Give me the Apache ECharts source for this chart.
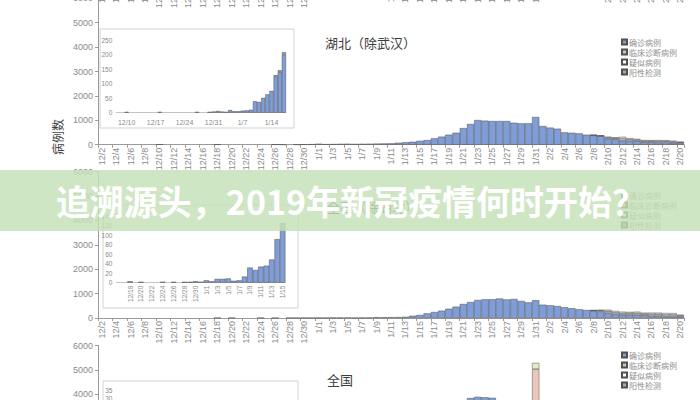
<!DOCTYPE html>
<html><head><meta charset="utf-8">
<script src="https://cdn.jsdelivr.net/npm/echarts@6/dist/echarts.min.js"></script>
<style>html,body{margin:0;padding:0;background:#fff}#c{width:700px;height:400px}</style>
</head><body><div id="c"></div><script>
// ---------- categories ----------
const dates = ['12/2','12/3','12/4','12/5','12/6','12/7','12/8','12/9','12/10','12/11','12/12','12/13','12/14','12/15','12/16','12/17','12/18','12/19','12/20','12/21','12/22','12/23','12/24','12/25','12/26','12/27','12/28','12/29','12/30','12/31',
'1/1','1/2','1/3','1/4','1/5','1/6','1/7','1/8','1/9','1/10','1/11','1/12','1/13','1/14','1/15','1/16','1/17','1/18','1/19','1/20','1/21','1/22','1/23','1/24','1/25','1/26','1/27','1/28','1/29','1/30','1/31',
'2/1','2/2','2/3','2/4','2/5','2/6','2/7','2/8','2/9','2/10','2/11','2/12','2/13','2/14','2/15','2/16','2/17','2/18','2/19','2/20'];
const insetHubeiDates = ['12/8','12/9','12/10','12/11','12/12','12/13','12/14','12/15','12/16','12/17','12/18','12/19','12/20','12/21','12/22','12/23','12/24','12/25','12/26','12/27','12/28','12/29','12/30','12/31',
'1/1','1/2','1/3','1/4','1/5','1/6','1/7','1/8','1/9','1/10','1/11','1/12','1/13','1/14','1/15','1/16','1/17'];
const insetOtherDates = ['12/16','12/17','12/18','12/19','12/20','12/21','12/22','12/23','12/24','12/25','12/26','12/27','12/28','12/29','12/30','12/31',
'1/1','1/2','1/3','1/4','1/5','1/6','1/7','1/8','1/9','1/10','1/11','1/12','1/13','1/14','1/15'];
const legendNames = ['确诊病例','临床诊断病例','疑似病例','阳性检测'];
const titleHubei = '湖北（除武汉）';
const titleOther = '全国（除湖北）';
const titleNation = '全国';
const bannerText = '追溯源头，2019年新冠疫情何时开始？';
const yName = '病例数';

// ---------- panel A: 湖北（除武汉） ----------
const hubeiConfirmed = [0,0,0,0,0,0,0,0,18,0, 0,0,0,0,0,0,15,0,0,0, 0,0,0,0,12,5,0,8,15,20,
 40,22,25,35,40,30,35,40,45,50, 55,80,100,120,160,190,260,330,410,490, 680,850,1010,985,970,970,970,900,875,875, 1135,
 765,700,655,505,490,465,410,380,350,245, 220,165,150,140,100,100,90,90,80,70];
const hubeiClinical = [0,0,0,0,0,0,0,0,0,0, 0,0,0,0,0,0,0,0,0,0, 0,0,0,0,0,0,0,0,0,0,
 0,0,0,0,0,0,0,0,0,0, 0,0,0,0,0,0,0,0,0,0, 0,0,0,0,0,0,0,0,0,0, 0,
 0,0,0,0,0,0,0,10,15,50, 50,90,70,60,50,50,55,55,45,30];
const hubeiSuspected = [0,0,0,0,0,0,0,0,0,0, 0,0,0,0,0,0,0,0,0,0, 0,0,0,0,0,0,0,0,0,0,
 0,0,0,0,0,0,0,0,0,0, 0,0,0,0,0,0,0,0,0,0, 0,0,0,0,0,0,0,0,0,0, 0,
 0,0,0,0,0,0,0,10,15,30, 30,70,50,40,40,40,45,40,40,20];

// ---------- panel B: 全国（除湖北） ----------
const otherConfirmed = [0,0,0,0,0,0,0,0,0,0, 0,0,0,0,0,0,8,0,6,0, 0,0,6,0,6,0,8,6,10,8,
 12,8,14,14,16,10,12,14,32,27, 34,36,49,92,126,190,245,300,380,465, 575,655,738,765,770,800,760,780,700,640, 730,
 546,520,490,440,400,360,330,300,270,200, 150,130,130,120,110,80,80,60,60,60];
const otherClinical = [0,0,0,0,0,0,0,0,0,0, 0,0,0,0,0,0,0,0,0,0, 0,0,0,0,0,0,0,0,0,0,
 0,0,0,0,0,0,0,0,0,0, 0,0,0,0,0,0,0,0,0,0, 0,0,0,0,0,0,0,0,0,0, 0,
 0,0,0,0,0,0,0,10,40,80, 80,70,70,80,60,80,80,80,80,40];
const otherSuspected = [0,0,0,0,0,0,0,0,0,0, 0,0,0,0,0,0,0,0,0,0, 0,0,0,0,0,0,0,0,0,0,
 0,0,0,0,0,0,0,0,0,0, 0,0,0,0,0,0,0,0,0,0, 0,0,0,0,0,0,0,0,0,0, 0,
 0,0,0,0,0,0,0,10,20,60, 60,60,50,60,50,60,60,65,60,35];

// ---------- panel C: 全国 ----------
const nationConfirmed = [0,0,0,0,0,0,0,5,20,10, 5,5,8,10,10,12,20,15,15,20, 20,25,25,30,30,35,35,40,45,60,
 80,70,90,100,110,110,120,140,170,190, 220,260,320,400,500,620,800,1200,1700,2300, 3100,3850,3900,3880,3860,3700,3650,3600,3550,3500, 3600,
 3300,3100,2900,2700,2500,2300,2100,1900,1700,1400, 1200,1000,900,800,700,600,500,450,400,350];
const nationClinical = [0,0,0,0,0,0,0,0,0,0, 0,0,0,0,0,0,0,0,0,0, 0,0,0,0,0,0,0,0,0,0,
 0,0,0,0,0,0,0,0,0,0, 0,0,0,0,0,0,0,0,0,0, 0,0,0,0,0,0,0,0,0,0, 1440,
 0,0,0,0,0,0,0,0,0,0, 0,0,0,0,0,0,0,0,0,0];
const nationSuspected = [0,0,0,0,0,0,0,0,0,0, 0,0,0,0,0,0,0,0,0,0, 0,0,0,0,0,0,0,0,0,0,
 0,0,0,0,0,0,0,0,0,0, 0,0,0,0,0,0,0,0,0,0, 0,0,0,0,0,0,0,0,0,0, 250,
 0,0,0,0,0,0,0,0,0,0, 0,0,0,0,0,0,0,0,0,0];

// ---------- insets ----------
const insetHubeiConfirmed = [0,0,3,0,0,0,0,0,0,0, 3,0,0,0,0,0,0,0,0,3, 0,0,3,4,
 6,4,3,9,5,5,7,8,10,39, 37,51,63,75,125,140,200];
const insetHubeiOther = [0,0,0,0,0,0,0,0,0,0, 0,0,0,0,0,0,0,0,0,0, 0,0,0,0,
 0,0,0,0,0,0,0,0,0,0, 0,0,0,0,4,6,8];
const insetOtherConfirmed = [0,0,3,0,2,0,0,0,2,0, 2,0,2,2,3,2,
 5,3,8,8,9,4,5,13,32,27, 34,36,49,92,111];
const insetOtherOther = [0,0,0,0,0,0,0,0,0,0, 0,0,0,0,0,0,
 0,0,0,0,0,0,0,0,0,0, 0,0,0,0,15];
const insetNationConfirmed = [0,0,1,0,1,0,0,0,1,0, 1,0,1,1,2,1,
 2,1,3,3,4,2,3,5,6,7, 8,9,10,12,14];

// ---------- build ----------
const BLUE = '#7f9dd8', EDGE = '#505050';
const latin = 'Liberation Sans, Arial, sans-serif';
const cjk = 'Noto Sans CJK SC, sans-serif';
const nz = a => a.map(v => v === 0 ? null : v);
const plain = v => String(v);

const mainLeft = 98, mainWidth = 586, mainH = 146.4;
const grids = [
  {left: mainLeft, width: mainWidth, top: -121, height: 103.4},      // 0 cut-off panel above
  {left: mainLeft, width: mainWidth, top: -1.7, height: mainH},      // 1 A
  {left: mainLeft, width: mainWidth, top: 171.6, height: mainH},     // 2 B
  {left: mainLeft, width: mainWidth, top: 345.6, height: mainH},     // 3 C
  {left: 116.3, width: 169.7, top: 40, height: 72.7},                // 4 inset A
  {left: 116.4, width: 169, top: 216.5, height: 66.2},               // 5 inset B
  {left: 116.4, width: 169, top: 390, height: 56}                    // 6 inset C
].map(g => Object.assign({outerBoundsMode: 'none', containLabel: false}, g));

function mainX(gi, showLine) {
  return {type: 'category', gridIndex: gi, data: dates, boundaryGap: true,
    axisLine: {show: showLine, lineStyle: {color: '#9a9a9a', width: 1}},
    axisTick: {show: showLine, interval: 1, length: 3, lineStyle: {color: '#9a9a9a'}},
    axisLabel: {interval: 1, rotate: 90, fontSize: 9, color: '#8a8a8a', margin: 3, fontFamily: latin}};
}
function mainY(gi) {
  return {type: 'value', gridIndex: gi, min: 0, max: 6000, interval: 1000,
    axisLine: {show: true, lineStyle: {color: '#9a9a9a'}},
    axisTick: {show: true, length: 3, lineStyle: {color: '#9a9a9a'}},
    splitLine: {show: false},
    axisLabel: {fontSize: 9, color: '#8a8a8a', margin: 5, fontFamily: latin, formatter: plain}};
}
function insetY(gi, max, step) {
  return {type: 'value', gridIndex: gi, min: 0, max: max, interval: step, z: 5,
    axisLine: {show: false}, axisTick: {show: false}, splitLine: {show: false},
    axisLabel: {fontSize: 6.5, color: '#8a8a8a', margin: 4, fontFamily: latin, formatter: plain}};
}

const xAxes = [
  mainX(0, false), mainX(1, true), mainX(2, true), mainX(3, true),
  {type: 'category', gridIndex: 4, data: insetHubeiDates, z: 5,
    axisLine: {lineStyle: {color: '#c4c4c4'}}, axisTick: {show: false},
    axisLabel: {interval: (i) => i >= 2 && (i - 2) % 7 === 0, fontSize: 7, color: '#8a8a8a', margin: 6, fontFamily: latin}},
  {type: 'category', gridIndex: 5, data: insetOtherDates, z: 5,
    axisLine: {lineStyle: {color: '#c4c4c4'}}, axisTick: {show: false},
    axisLabel: {interval: (i) => i >= 2 && i % 2 === 0, rotate: 90, fontSize: 6.5, color: '#8a8a8a', margin: 3, fontFamily: latin}},
  {type: 'category', gridIndex: 6, data: insetOtherDates, z: 5,
    axisLine: {lineStyle: {color: '#c4c4c4'}}, axisTick: {show: false},
    axisLabel: {interval: (i) => i >= 2 && i % 2 === 0, rotate: 90, fontSize: 6.5, color: '#8a8a8a', margin: 3, fontFamily: latin}}
];
const yAxes = [
  {type: 'value', gridIndex: 0, show: false, min: 0, max: 6000},
  mainY(1), mainY(2), mainY(3),
  insetY(4, 250, 50), insetY(5, 140, 20), insetY(6, 35, 5)
];

function bar(name, gi, data, color, stack, z) {
  return {type: 'bar', name: name, xAxisIndex: gi, yAxisIndex: gi, stack: stack, data: nz(data),
    barCategoryGap: '0%', barGap: '0%', z: z || 2, animation: false,
    itemStyle: {color: color, borderColor: EDGE, borderWidth: 0.5}};
}
const series = [
  bar(legendNames[0], 1, hubeiConfirmed, BLUE, 'A'),
  bar(legendNames[1], 1, hubeiClinical, '#c6c6c6', 'A'),
  bar(legendNames[2], 1, hubeiSuspected, '#ffffff', 'A'),
  {type: 'bar', name: legendNames[3], xAxisIndex: 1, yAxisIndex: 1, stack: 'A', data: [],
    itemStyle: {color: '#a8a8a8', borderColor: EDGE, borderWidth: 0.5}},
  bar(legendNames[0], 2, otherConfirmed, BLUE, 'B'),
  bar(legendNames[1], 2, otherClinical, '#c6c6c6', 'B'),
  bar(legendNames[2], 2, otherSuspected, '#ffffff', 'B'),
  bar(legendNames[0], 3, nationConfirmed, BLUE, 'C'),
  bar(legendNames[1], 3, nationClinical, '#ecc6b8', 'C'),
  bar(legendNames[2], 3, nationSuspected, '#e4ecc8', 'C'),
  bar('inA1', 4, insetHubeiConfirmed, BLUE, 'IA', 6),
  bar('inA2', 4, insetHubeiOther, '#a9a9a9', 'IA', 6),
  bar('inB1', 5, insetOtherConfirmed, BLUE, 'IB', 6),
  bar('inB2', 5, insetOtherOther, '#a9a9a9', 'IB', 6),
  bar('inC1', 6, insetNationConfirmed, BLUE, 'IC', 6)
];

function legendAt(top) {
  return {left: 621, top: top, orient: 'vertical', padding: 0, itemGap: 0,
    itemWidth: 5, itemHeight: 5, icon: 'rect', selectedMode: false, data: legendNames,
    textStyle: {fontSize: 8, color: '#8f8f8f', fontFamily: cjk, padding: [0, 0, 0, -3], lineHeight: 10}};
}
function titleAt(text, left, top) {
  return {text: text, left: left, top: top, padding: 0,
    textStyle: {fontSize: 13, fontWeight: 'normal', color: '#3c3c3c', fontFamily: cjk}};
}

const boxStyle = {fill: '#ffffff', stroke: '#d2d2d2', lineWidth: 1};
const option = {
  backgroundColor: '#ffffff',
  animation: false,
  grid: grids, xAxis: xAxes, yAxis: yAxes, series: series,
  legend: [legendAt(37), legendAt(190), legendAt(350)],
  title: [titleAt(titleHubei, 325, 36), titleAt(titleOther, 327, 200), titleAt(titleNation, 327, 373)],
  graphic: [
    {type: 'rect', shape: {x: 100, y: 29, width: 194, height: 99}, style: boxStyle, z: 3},
    {type: 'rect', shape: {x: 103, y: 205, width: 195, height: 103}, style: boxStyle, z: 3},
    {type: 'rect', shape: {x: 103, y: 381, width: 195, height: 90}, style: boxStyle, z: 3},
    {type: 'text', x: 57, y: 137, rotation: Math.PI / 2, z: 3,
      style: {text: yName, fontSize: 12, fill: '#444', align: 'center', verticalAlign: 'middle', fontFamily: cjk}},
    {type: 'rect', shape: {x: 0, y: 170, width: 700, height: 61}, z: 100,
      style: {fill: 'rgba(196,224,183,0.82)'}},
    {type: 'text', x: 351, y: 200, z: 101,
      style: {text: bannerText, fontSize: 34, fontWeight: 'bold', fontFamily: cjk, fill: '#ffffff',
        align: 'center', verticalAlign: 'middle', shadowBlur: 3, shadowColor: 'rgba(0,0,0,0.25)'}}
  ]
};
const chart = echarts.init(document.getElementById('c'), null, {renderer: 'svg', width: 700, height: 400});
chart.setOption(option);
</script></body></html>
